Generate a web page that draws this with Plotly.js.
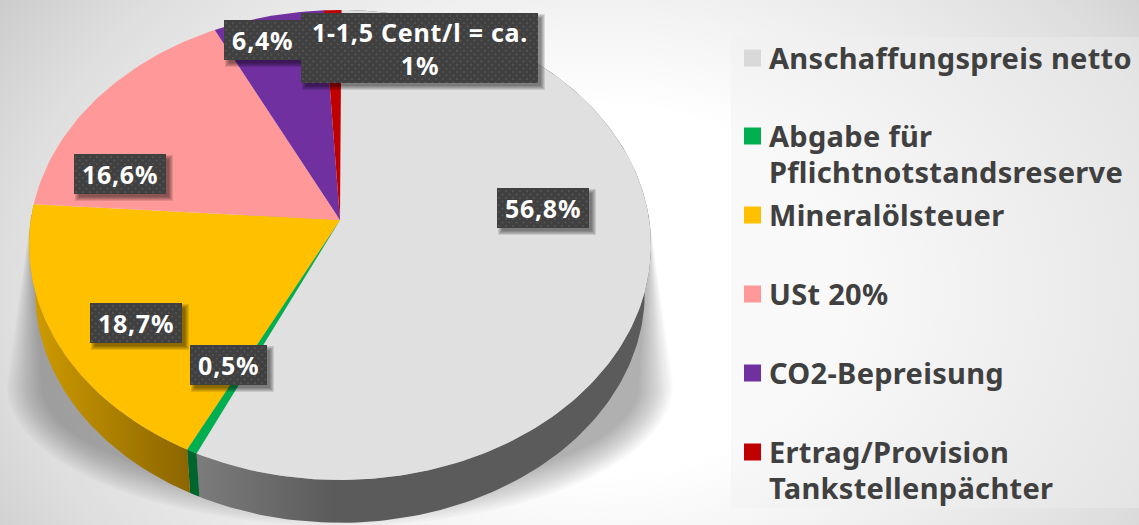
<!DOCTYPE html>
<html><head><meta charset="utf-8">
<script src="https://cdn.plot.ly/plotly-3.0.0.min.js"></script>
<style>
html,body{margin:0;padding:0;width:1139px;height:525px;overflow:hidden;
background:radial-gradient(ellipse 700px 520px at 600px 290px,#ffffff 0%,#ffffff 35%,#dedede 85%,#c4c4c4 110%);}
#c{width:1139px;height:525px}
.annotation-text{letter-spacing:0.3px}
.annotation[data-index="0"] .annotation-text,.annotation[data-index="1"] .annotation-text,.annotation[data-index="2"] .annotation-text,
.annotation[data-index="3"] .annotation-text,.annotation[data-index="4"] .annotation-text,.annotation[data-index="5"] .annotation-text{letter-spacing:0.75px}
</style></head><body><div id="c"></div>
<script>
const categories=["Anschaffungspreis netto","Abgabe für<br>Pflichtnotstandsreserve","Mineralölsteuer","USt 20%","CO2-Bepreisung","Ertrag/Provision<br>Tankstellenpächter"];
const shares=[56.8,0.5,18.7,16.6,6.4,1.0];
const sliceColors=["#E0E0E0","#00B050","#FFC000","#FF9999","#7030A0","#C00000"];
const swatchColors=["#D9D9D9","#00B050","#FFC000","#FF9999","#7030A0","#C00000"];
const pctLabels=["56,8%","0,5%","18,7%","16,6%","6,4%","1-1,5 Cent/l = ca.<br>1%"];
const wallFills=[
 {type:'horizontal',colorscale:[[0,'#7c7c7c'],[0.3,'#5b5b5b'],[1,'#5b5b5b']]},
 {type:'horizontal',colorscale:[[0,'#00642d'],[1,'#00642d']]},
 {type:'horizontal',colorscale:[[0,'#d09c00'],[1,'#8b6500']]}
];
// label boxes: [left, top, right, bottom]
const labelBoxes=[[497,188,589,228],[190,345,267,385],[90,303,182,343],[74,154,166,194],[224,20,304,60],[301,13,538,83]];
const legendRows=[57,135,214,293,372,451];

const CX=340,CY=220,A=309.2,B=232.3,K=0.1064,ROT=0.3*Math.PI/180;
function pt(t,s,dy){const u=Math.sin(t),v=Math.cos(t),d=1+K*v;return [CX+s*A*u/d,CY+dy-s*B*v/d];}
const traces=[];
const base={type:'scatter',mode:'lines',fill:'toself',line:{width:0},hoverinfo:'skip',showlegend:false};
function poly(xy,extra){traces.push(Object.assign({},base,{x:xy.map(p=>p[0]),y:xy.map(p=>p[1])},extra));}

// soft ground shadow
const DEPTH=48,S2=0.98;
for(let i=0;i<18;i++){
  const g=36-i*2, xy=[[649,215]];
  for(let a=0;a<=1;a+=1/80){
    const th=a*Math.PI;
    xy.push([340+Math.cos(th)*(297+g),385+Math.sin(th)*(105+g)]);
  }
  xy.push([31,215]);
  poly(xy,{fillcolor:'rgba(70,70,70,0.027)'});
}
// slices: walls then top faces
const starts=[];let acc=0;shares.forEach(v=>{starts.push(acc);acc+=v;});
shares.forEach((v,i)=>{
  if(i>2)return;
  const t0=starts[i]/100*2*Math.PI+ROT,t1=(starts[i]+v)/100*2*Math.PI+ROT,n=Math.max(4,Math.round(v*3));
  const xy=[];
  for(let j=0;j<=n;j++)xy.push(pt(t0+(t1-t0)*j/n,1,0));
  for(let j=n;j>=0;j--)xy.push(pt(t0+(t1-t0)*j/n,S2,DEPTH));
  poly(xy,{fillgradient:wallFills[i],name:categories[i]+' wall'});
});
shares.forEach((v,i)=>{
  const t0=starts[i]/100*2*Math.PI+ROT,t1=(starts[i]+v)/100*2*Math.PI+ROT,n=Math.max(4,Math.round(v*3));
  const xy=[[CX,CY]];
  for(let j=0;j<=n;j++)xy.push(pt(t0+(t1-t0)*j/n,1,0));
  poly(xy,{fillcolor:sliceColors[i],name:categories[i]});
});
// data-label boxes
shares.forEach((_,i)=>{
  const [l,t,r,b]=labelBoxes[i];
  for(let k=0;k<5;k++){
    const e=5-k;
    poly([[l+4-e+2,t+4-e+2],[r+4+e-2,t+4-e+2],[r+4+e-2,b+4+e-2],[l+4-e+2,b+4+e-2]],{fillcolor:'rgba(0,0,0,0.11)'});
  }
  poly([[l,t],[r,t],[r,b],[l,b]],{fillcolor:'#404040'});
  const dx=[],dy=[];let row=0;
  for(let y=t+3;y<b;y+=3.5,row++){
    for(let x=l+(row%2?3.5:0)+2;x<r;x+=7){dx.push(x);dy.push(y);}
  }
  traces.push({type:'scatter',mode:'markers',x:dx,y:dy,hoverinfo:'skip',showlegend:false,
    marker:{size:2.2,symbol:'circle',color:'rgba(255,255,255,0.11)',line:{width:0}}});
});
// legend swatches
traces.push({type:'scatter',mode:'markers',x:legendRows.map(()=>752.5),y:legendRows.map(v=>v+1),hoverinfo:'skip',showlegend:false,
  marker:{symbol:'square',size:17,color:swatchColors,line:{width:0}}});

const FONT='"Noto Sans", sans-serif';
const annotations=[];
pctLabels.forEach((txt,i)=>{
  const [l,t,r,b]=labelBoxes[i];
  annotations.push({xref:'x',yref:'y',x:(i===4?l+38:(l+r)/2),y:(t+b)/2,text:'<b>'+txt+'</b>',showarrow:false,
    xanchor:'center',yanchor:'middle',font:{family:FONT,size:25,color:'#fff'},align:'center'});
});
categories.forEach((txt,i)=>{
  txt.split('<br>').forEach((line,j)=>{
    annotations.push({xref:'x',yref:'y',x:767,y:legendRows[i]+j*36,text:'<b>'+line+'</b>',showarrow:false,
      xanchor:'left',yanchor:'middle',align:'left',font:{family:FONT,size:29,color:'#404040'}});
  });
});
const layout={width:1139,height:525,margin:{l:0,r:0,t:0,b:0},paper_bgcolor:'rgba(0,0,0,0)',plot_bgcolor:'rgba(0,0,0,0)',
  xaxis:{range:[0,1139],visible:false,fixedrange:true},yaxis:{range:[525,0],visible:false,fixedrange:true},
  showlegend:false,annotations,
  shapes:[{type:'rect',xref:'x',yref:'y',x0:731,x1:1139,y0:37,y1:508,fillcolor:'rgba(240,240,240,0.4)',line:{width:0},layer:'below'}]};
Plotly.newPlot('c',traces,layout,{displayModeBar:false,staticPlot:true});
</script></body></html>
